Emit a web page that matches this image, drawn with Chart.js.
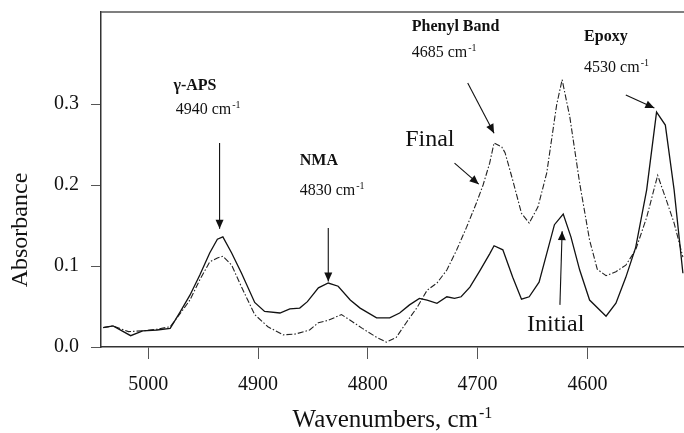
<!DOCTYPE html>
<html>
<head>
<meta charset="utf-8">
<script src="https://cdn.jsdelivr.net/npm/chart.js@4/dist/chart.umd.min.js"></script>
<style>
html,body{margin:0;padding:0;background:#fff;}
#wrap{width:684px;height:433px;position:relative;}
</style>
</head>
<body>
<div id="wrap"><canvas id="c" width="684" height="433"></canvas></div>
<script>
// ---- Data ----
const wavenumbersInitial = [5041,5032,5016,5005,4992,4980,4971,4962,4953,4944,4937,4932,4924,4915,4903,4894,4880,4871,4862,4855,4845,4836,4827,4816,4807,4792,4780,4771,4762,4753,4746,4737,4728,4721,4715,4707,4698,4689,4685,4677,4668,4660,4653,4644,4630,4622,4615,4607,4598,4583,4574,4565,4556,4546,4537,4529,4521,4513];
const absorbanceInitial  = [0.024,0.026,0.014,0.020,0.021,0.023,0.043,0.064,0.089,0.116,0.133,0.136,0.116,0.091,0.055,0.044,0.042,0.047,0.048,0.056,0.073,0.079,0.075,0.058,0.048,0.036,0.036,0.042,0.052,0.060,0.058,0.054,0.062,0.060,0.062,0.074,0.094,0.115,0.125,0.120,0.086,0.059,0.062,0.080,0.151,0.164,0.136,0.095,0.058,0.038,0.054,0.086,0.123,0.194,0.290,0.274,0.194,0.091];

const wavenumbersFinal = [5041,5032,5018,5005,4992,4980,4971,4962,4953,4944,4937,4932,4924,4915,4903,4891,4877,4866,4853,4845,4836,4824,4816,4805,4792,4783,4774,4765,4755,4746,4737,4728,4719,4710,4701,4695,4689,4685,4678,4675,4668,4660,4653,4645,4637,4628,4623,4616,4607,4598,4591,4583,4574,4565,4556,4546,4536,4528,4521,4513];
const absorbanceFinal  = [0.024,0.026,0.019,0.020,0.022,0.025,0.041,0.058,0.083,0.105,0.110,0.112,0.101,0.074,0.040,0.025,0.015,0.016,0.021,0.030,0.033,0.040,0.033,0.023,0.012,0.006,0.012,0.030,0.049,0.070,0.079,0.095,0.120,0.148,0.178,0.200,0.227,0.252,0.247,0.240,0.206,0.165,0.153,0.173,0.215,0.299,0.330,0.284,0.202,0.132,0.096,0.088,0.093,0.101,0.120,0.160,0.212,0.181,0.153,0.111];

const xTickValues = [5000, 4900, 4800, 4700, 4600];
const yTickValues = [0.0, 0.1, 0.2, 0.3];
const xRange = [4512, 5043];
const yRange = [0, 0.4136];

// Annotation texts (positions in data units)
const labelTexts = [
  {text:'γ-APS', bold:true, w:4977, a:0.317},
  {text:'4940 cm', sup:'-1', w:4975, a:0.288},
  {text:'NMA', bold:true, w:4862, a:0.225},
  {text:'4830 cm', sup:'-1', w:4862, a:0.188},
  {text:'Phenyl Band', bold:true, w:4760, a:0.390},
  {text:'4685 cm', sup:'-1', w:4760, a:0.358},
  {text:'Epoxy', bold:true, w:4603, a:0.378},
  {text:'4530 cm', sup:'-1', w:4603, a:0.340},
  {text:'Final', big:true, w:4766, a:0.248},
  {text:'Initial', big:true, w:4655, a:0.020}
];
const arrows = [
  {w1:4935, a1:0.252, w2:4935, a2:0.146},
  {w1:4836, a1:0.147, w2:4836, a2:0.081},
  {w1:4709, a1:0.326, w2:4685, a2:0.264},
  {w1:4721, a1:0.227, w2:4699, a2:0.201},
  {w1:4565, a1:0.311, w2:4539, a2:0.295},
  {w1:4625, a1:0.052, w2:4623, a2:0.143}
];

const FONT = '"Liberation Serif", "Times New Roman", serif';

function drawSup(ctx, main, sup, px, py, size) {
  ctx.font = size + 'px ' + FONT;
  ctx.fillText(main, px, py);
  const w = ctx.measureText(main).width;
  ctx.font = Math.round(size * 0.62) + 'px ' + FONT;
  ctx.fillText(sup, px + w + 1, py - size * 0.38);
}

function drawArrow(ctx, x1, y1, x2, y2) {
  ctx.beginPath();
  ctx.moveTo(x1, y1);
  ctx.lineTo(x2, y2);
  ctx.stroke();
  const ang = Math.atan2(y2 - y1, x2 - x1);
  const L = 9, W = 4;
  ctx.beginPath();
  ctx.moveTo(x2, y2);
  ctx.lineTo(x2 - L * Math.cos(ang) + W * Math.sin(ang), y2 - L * Math.sin(ang) - W * Math.cos(ang));
  ctx.lineTo(x2 - L * Math.cos(ang) - W * Math.sin(ang), y2 - L * Math.sin(ang) + W * Math.cos(ang));
  ctx.closePath();
  ctx.fill();
}

const annotPlugin = {
  id: 'annot',
  afterDraw(chart) {
    const ctx = chart.ctx;
    const xs = chart.scales.x, ys = chart.scales.y;
    const ca = chart.chartArea;
    ctx.save();
    // top frame line
    ctx.strokeStyle = '#555';
    ctx.lineWidth = 1.5;
    ctx.beginPath();
    ctx.moveTo(ca.left, ca.top);
    ctx.lineTo(ca.right, ca.top);
    ctx.stroke();

    ctx.fillStyle = '#111';
    ctx.textBaseline = 'alphabetic';
    ctx.textAlign = 'left';
    for (const l of labelTexts) {
      const px = xs.getPixelForValue(l.w), py = ys.getPixelForValue(l.a);
      if (l.sup) {
        drawSup(ctx, l.text, l.sup, px, py, 16);
      } else {
        ctx.font = (l.bold ? 'bold 16px ' : (l.big ? '24px ' : '16px ')) + FONT;
        ctx.fillText(l.text, px, py);
      }
    }
    ctx.strokeStyle = '#111';
    ctx.lineWidth = 1.1;
    for (const a of arrows) {
      drawArrow(ctx, xs.getPixelForValue(a.w1), ys.getPixelForValue(a.a1),
                     xs.getPixelForValue(a.w2), ys.getPixelForValue(a.a2));
    }

    // axis titles
    ctx.fillStyle = '#111';
    ctx.textAlign = 'left';
    ctx.font = '25px ' + FONT;
    const mainT = 'Wavenumbers, cm';
    const tw = ctx.measureText(mainT).width;
    ctx.font = '15px ' + FONT;
    const sw = ctx.measureText('-1').width;
    const startX = 392 - (tw + sw + 1) / 2;
    drawSup(ctx, mainT, '-1', startX, 427, 25);

    ctx.save();
    ctx.translate(27, 230);
    ctx.rotate(-Math.PI / 2);
    ctx.textAlign = 'center';
    ctx.textBaseline = 'alphabetic';
    ctx.font = '24px ' + FONT;
    ctx.fillText('Absorbance', 0, 0);
    ctx.restore();
    ctx.restore();
  }
};

const toPoints = (ws, as) => ws.map((w, i) => ({x: w, y: as[i]}));

new Chart(document.getElementById('c'), {
  type: 'line',
  data: {
    datasets: [
      {
        label: 'Initial',
        data: toPoints(wavenumbersInitial, absorbanceInitial),
        borderColor: '#111',
        borderWidth: 1.3,
        pointRadius: 0,
        tension: 0,
        fill: false
      },
      {
        label: 'Final',
        data: toPoints(wavenumbersFinal, absorbanceFinal),
        borderColor: '#222',
        borderWidth: 1.1,
        borderDash: [6, 2, 1.5, 2],
        pointRadius: 0,
        tension: 0,
        fill: false
      }
    ]
  },
  options: {
    responsive: false,
    devicePixelRatio: 1,
    animation: false,
    layout: {padding: {top: 12, left: 0, right: 0, bottom: 0}},
    plugins: {legend: {display: false}, tooltip: {enabled: false}, title: {display: false}},
    scales: {
      x: {
        type: 'linear',
        reverse: true,
        min: xRange[0],
        max: xRange[1],
        afterBuildTicks: s => { s.ticks = xTickValues.map(v => ({value: v})); },
        afterFit: s => { s.height = 86; s.paddingLeft = 0; s.paddingRight = 0; },
        grid: {display: true, drawOnChartArea: false, drawTicks: true, tickLength: 12, color: '#555', lineWidth: 1},
        border: {display: true, color: '#333', width: 1.5},
        ticks: {font: {family: FONT, size: 20}, color: '#111', padding: 14, maxRotation: 0, autoSkip: false,
                callback: v => String(v)},
        title: {display: false}
      },
      y: {
        type: 'linear',
        min: yRange[0],
        max: yRange[1],
        afterBuildTicks: s => { s.ticks = yTickValues.map(v => ({value: v})); },
        afterFit: s => { s.width = 101; s.paddingTop = 0; s.paddingBottom = 0; },
        grid: {display: true, drawOnChartArea: false, drawTicks: true, tickLength: 10, color: '#555', lineWidth: 1},
        border: {display: true, color: '#333', width: 1.5},
        ticks: {font: {family: FONT, size: 20}, color: '#111', padding: 12, autoSkip: false,
                callback: v => Number(v).toFixed(1)},
        title: {display: false}
      }
    }
  },
  plugins: [annotPlugin]
});
</script>
</body>
</html>
